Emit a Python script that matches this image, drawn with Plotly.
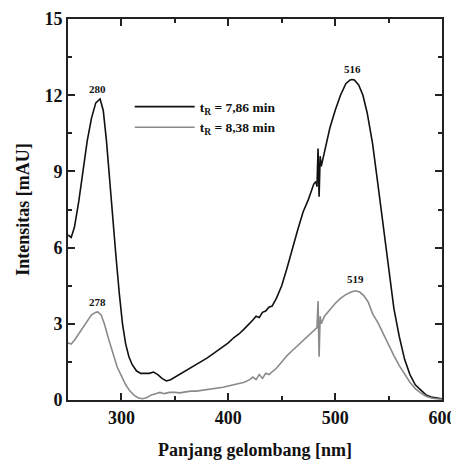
import plotly.graph_objects as go

wl_a = [250, 253, 256, 260, 264, 268, 272, 276, 280, 283, 286, 289, 292, 295, 298, 301, 304, 307, 310, 314, 318, 322, 326, 330, 334, 338, 342, 346, 350, 355, 360, 365, 370, 375, 380, 385, 390, 395, 400, 405, 410, 415, 420, 423, 426, 429, 432, 435, 438, 441, 445, 450, 455, 460, 465, 470, 475, 480, 482, 483, 484, 485, 486, 487, 490, 495, 500, 505, 510, 514, 516, 518, 522, 526, 530, 535, 540, 545, 550, 555, 560, 565, 570, 575, 580, 585, 590, 595, 600]
int_a = [6.5, 6.4, 6.8, 7.8, 9.0, 10.2, 11.1, 11.7, 11.85, 11.4, 10.2, 8.6, 7.0, 5.6, 4.2, 3.0, 2.2, 1.7, 1.4, 1.15, 1.05, 1.05, 1.05, 1.1, 1.0, 0.85, 0.75, 0.8, 0.9, 1.0, 1.15, 1.25, 1.4, 1.5, 1.65, 1.8, 1.95, 2.1, 2.25, 2.45, 2.6, 2.8, 3.0, 3.15, 3.3, 3.25, 3.45, 3.5, 3.65, 3.7, 4.0, 4.5, 5.2, 6.0, 6.7, 7.4, 7.9, 8.5, 8.6, 8.4, 9.9, 8.0, 9.6, 9.2, 9.8, 10.7, 11.4, 12.0, 12.45, 12.6, 12.62, 12.6, 12.4, 12.0, 11.3, 10.1, 8.5, 6.8, 5.1, 3.6, 2.5, 1.6, 1.0, 0.6, 0.4, 0.2, 0.12, 0.08, 0.05]

wl_b = [250, 253, 256, 260, 264, 268, 272, 276, 278, 281, 284, 288, 292, 296, 300, 304, 308, 312, 316, 320, 324, 328, 332, 336, 340, 345, 350, 355, 360, 365, 370, 375, 380, 385, 390, 395, 400, 405, 410, 415, 420, 423, 426, 429, 432, 435, 438, 441, 445, 450, 455, 460, 465, 470, 475, 480, 483, 484, 485, 486, 487, 490, 495, 500, 505, 510, 515, 519, 523, 527, 531, 535, 540, 545, 550, 555, 560, 565, 570, 575, 580, 585, 590, 595, 600]
int_b = [2.25, 2.2, 2.35, 2.6, 2.85, 3.1, 3.35, 3.45, 3.47, 3.35, 3.0, 2.4, 1.8, 1.3, 0.95, 0.6, 0.35, 0.18, 0.08, 0.05, 0.1, 0.2, 0.25, 0.3, 0.25, 0.3, 0.3, 0.28, 0.32, 0.35, 0.35, 0.38, 0.4, 0.42, 0.45, 0.5, 0.55, 0.6, 0.65, 0.7, 0.8, 0.9, 0.8, 1.0, 0.85, 1.05, 1.0, 1.1, 1.25, 1.5, 1.75, 1.95, 2.15, 2.35, 2.55, 2.75, 2.85, 3.9, 1.7, 3.3, 3.0, 3.3, 3.55, 3.8, 4.0, 4.15, 4.25, 4.3, 4.25, 4.1, 3.85, 3.4, 3.05, 2.6, 2.15, 1.75, 1.35, 1.0, 0.7, 0.45, 0.28, 0.15, 0.08, 0.05, 0.03]

series_names = ["<b>t<sub>R</sub> = 7,86 min</b>", "<b>t<sub>R</sub> = 8,38 min</b>"]
peak_x = [278, 516, 278, 519]
peak_y = [12.25, 13.05, 3.85, 4.75]
peak_labels = ["280", "516", "278", "519"]

font_family = "Liberation Serif"

fig = go.Figure()
fig.add_trace(go.Scatter(x=wl_a, y=int_a, mode="lines", name=series_names[0],
                         line=dict(color="#111111", width=1.6)))
fig.add_trace(go.Scatter(x=wl_b, y=int_b, mode="lines", name=series_names[1],
                         line=dict(color="#8a8a8a", width=1.6)))

for px, py, lab in zip(peak_x, peak_y, peak_labels):
    fig.add_annotation(x=px, y=py, text="<b>%s</b>" % lab, showarrow=False,
                       font=dict(family=font_family, size=11, color="#111111"))

axis_common = dict(showline=True, linecolor="#222222", linewidth=2, mirror="ticks",
                   ticks="inside", ticklen=7, tickwidth=1.5, tickcolor="#222222",
                   showgrid=False, zeroline=False, automargin=False,
                   tickfont=dict(family=font_family, size=18, color="#111111"))

fig.update_xaxes(range=[250, 600], tickvals=[300, 400, 500, 600],
                 ticktext=["<b>300</b>", "<b>400</b>", "<b>500</b>", "<b>600</b>"],
                 minor=dict(tickvals=[350, 450, 550], ticks="inside", ticklen=4, tickcolor="#222222"),
                 title=dict(text="<b>Panjang gelombang [nm]</b>", standoff=17,
                            font=dict(family=font_family, size=18, color="#111111")),
                 **axis_common)
fig.update_yaxes(range=[0, 15], tickvals=[0, 3, 6, 9, 12, 15],
                 ticktext=["<b>0</b>", "<b>3</b>", "<b>6</b>", "<b>9</b>", "<b>12</b>", "<b>15</b>"],
                 minor=dict(tickvals=[1.5, 4.5, 7.5, 10.5, 13.5], ticks="inside", ticklen=4, tickcolor="#222222"),
                 title=dict(text="<b>Intensitas [mAU]</b>", standoff=10,
                            font=dict(family=font_family, size=18, color="#111111")),
                 **axis_common)

fig.update_layout(width=459, height=454, margin=dict(l=60, r=25, t=11, b=62),
                  plot_bgcolor="white", paper_bgcolor="white",
                  legend=dict(x=0.165, y=0.81, xanchor="left", yanchor="top",
                              bgcolor="rgba(0,0,0,0)", itemwidth=60, tracegroupgap=0,
                              font=dict(family=font_family, size=13.5, color="#111111")),
                  showlegend=True)

fig.write_html("out.html")
